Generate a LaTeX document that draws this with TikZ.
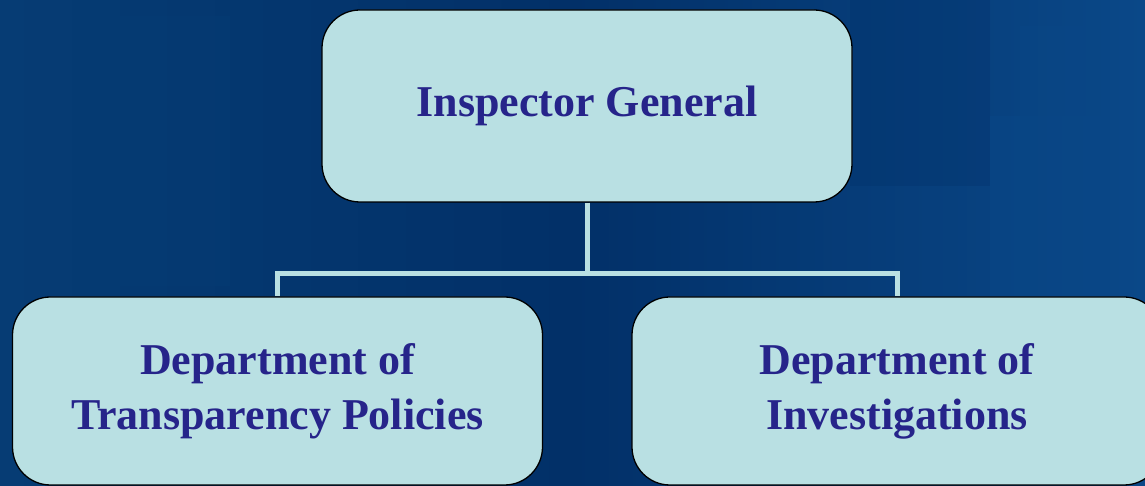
\documentclass[tikz,border=0pt]{standalone}
\usepackage{fontspec}
\setmainfont{Liberation Serif}
\usetikzlibrary{positioning,calc}
\definecolor{boxfill}{RGB}{185,224,227}
\definecolor{boxtext}{RGB}{38,36,138}
\definecolor{bgdark}{RGB}{2,48,104}
\definecolor{bgmid}{RGB}{6,60,116}
\definecolor{bglight}{RGB}{10,72,136}
\tikzset{
  orgbox/.style={draw=black, line width=1.3pt, fill=boxfill, rounded corners=38pt,
    minimum width=530pt, minimum height=190pt, align=center,
    text=boxtext, font=\fontsize{44}{55}\selectfont\bfseries},
  link/.style={draw=boxfill, line width=5pt}
}
\begin{document}
\begin{tikzpicture}[x=1pt,y=1pt]
		\useasboundingbox (0,0) rectangle (1145,486);
		% background
		\shade[left color=bgmid, right color=bglight, middle color=bgdark] (0,0) rectangle (1145,486);
		\fill[bglight, opacity=0.45] (990,130) rectangle (1145,370);
		\fill[bglight, opacity=0.3] (1020,370) rectangle (1145,460);
		\fill[bgdark, opacity=0.3] (850,300) rectangle (990,486);
		\fill[bgmid, opacity=0.4] (90,200) rectangle (230,470);
		% boxes
		\node[orgbox, minimum height=192pt] (ig) at (587,380) {Inspector General};
		\node[orgbox, minimum height=188pt] (tp) at (277.5,95) {Department of\\Transparency Policies};
		\node[orgbox, minimum height=188pt] (inv) at (897,95) {Department of\\Investigations};
		% connectors
		\coordinate (hub) at ($(ig.south)+(0,-71)$);
		\draw[link] (ig.south) -- (hub) -| (tp.north);
		\draw[link] (hub) -| (inv.north);
\end{tikzpicture}
\end{document}
